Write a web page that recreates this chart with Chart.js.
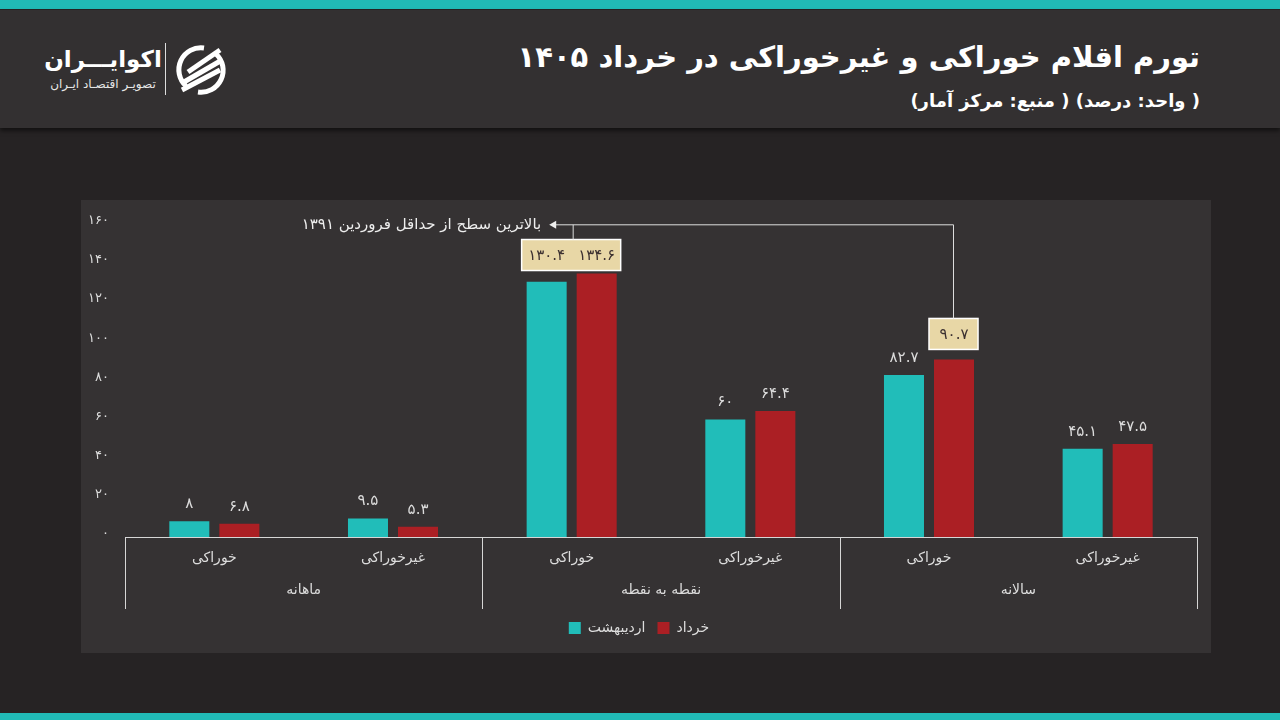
<!DOCTYPE html>
<html lang="fa">
<head>
<meta charset="utf-8">
<script src="https://cdn.jsdelivr.net/npm/chart.js@4"></script>
<style>
  body { margin: 0; width: 1280px; height: 720px; background: #262324; position: relative; overflow: hidden; font-family: "DejaVu Sans", sans-serif; }
  .topline { position: absolute; left: 0; top: 0; width: 1280px; height: 9px; background: #21bab6; }
  .bottomline { position: absolute; left: 0; top: 713px; width: 1280px; height: 7px; background: #21bab6; }
  .header { position: absolute; left: 0; top: 10px; width: 1280px; height: 118px; background: #333031; box-shadow: 0 3px 4px rgba(0,0,0,0.5); }
  .title { position: absolute; right: 80px; top: 30px; color: #fff; font-weight: bold; font-size: 29px; direction: rtl; white-space: nowrap; }
  .subtitle { position: absolute; right: 80px; top: 80px; color: #fff; font-weight: bold; font-size: 18px; direction: rtl; white-space: nowrap; }
  .logo-name { position: absolute; left: 44px; top: 36px; width: 118px; text-align: center; color: #fff; font-weight: bold; font-size: 23px; direction: rtl; }
  .logo-sub { position: absolute; left: 44px; top: 67px; width: 118px; text-align: center; color: #e6e6e6; font-size: 12px; direction: rtl; }
  .logo-bar { position: absolute; left: 165px; top: 33px; width: 1px; height: 52px; background: #ddd; }
  .logo-icon { position: absolute; left: 174px; top: 32px; }
  .panel { position: absolute; left: 81px; top: 200px; width: 1130px; height: 453px; background: #353233; }
</style>
</head>
<body>
<div class="topline"></div>
<div class="header">
  <div class="title">تورم اقلام خوراکی و غیرخوراکی در خرداد ۱۴۰۵</div>
  <div class="subtitle">( واحد: درصد) ( منبع: مرکز آمار)</div>
  <div class="logo-name">اکوایـــران</div>
  <div class="logo-sub">تصویـر اقتصـاد ایـران</div>
  <div class="logo-bar"></div>
  <svg class="logo-icon" width="54" height="54" viewBox="0 0 54 54">
    <path d="M12 44 A22 22 0 0 1 30 6" fill="none" stroke="#fff" stroke-width="5"/>
    <path d="M42 12 A22 22 0 0 1 24 50" fill="none" stroke="#fff" stroke-width="5"/>
    <line x1="14" y1="30" x2="46" y2="8" stroke="#fff" stroke-width="5"/>
    <line x1="10" y1="40" x2="48" y2="18" stroke="#fff" stroke-width="5"/>
    <line x1="8" y1="48" x2="46" y2="28" stroke="#fff" stroke-width="5"/>
  </svg>
</div>
<div class="panel"><canvas id="chart" width="1130" height="453"></canvas></div>
<div class="bottomline"></div>
<script>
const categories = ["خوراکی", "غیرخوراکی", "خوراکی", "غیرخوراکی", "خوراکی", "غیرخوراکی"];
const groups = ["ماهانه", "نقطه به نقطه", "سالانه"];
const seriesNames = ["اردیبهشت", "خرداد"];
const ordibehesht = [8, 9.5, 130.4, 60, 82.7, 45.1];
const khordad = [6.8, 5.3, 134.6, 64.4, 90.7, 47.5];
const yTicks = [0, 20, 40, 60, 80, 100, 120, 140, 160];
const noteText = "بالاترین سطح از حداقل فروردین ۱۳۹۱";

const FONT = "DejaVu Sans";
const faDigits = "۰۱۲۳۴۵۶۷۸۹";
function toFa(v) {
  return String(v).replace(/[0-9]/g, d => faDigits[d]);
}

// highlighted values: category index, datasets in box, gap above bar
const boxes = [
  { cat: 2, ds: [0, 1], gap: 3 },
  { cat: 4, ds: [1], gap: 10 },
];

const labelsPlugin = {
  id: "labels",
  afterDatasetsDraw(chart) {
    const ctx = chart.ctx;
    const data = [ordibehesht, khordad];
    const inBox = (i, j) => boxes.some(b => b.cat === j && b.ds.includes(i));
    ctx.save();
    ctx.font = "15px '" + FONT + "'";
    ctx.textAlign = "center";
    ctx.textBaseline = "middle";
    ctx.fillStyle = "#dcdcdc";
    data.forEach((vals, i) => {
      chart.getDatasetMeta(i).data.forEach((bar, j) => {
        if (inBox(i, j)) return;
        ctx.fillText(toFa(vals[j]), bar.x, bar.y - 17);
      });
    });
    const rects = [];
    boxes.forEach(b => {
      const bars = b.ds.map(i => chart.getDatasetMeta(i).data[b.cat]);
      const w = bars[0].width;
      const left = bars[0].x - w / 2 - 5;
      const right = bars[bars.length - 1].x + w / 2 + 4;
      const bottom = Math.min(...bars.map(e => e.y)) - b.gap;
      const top = bottom - 31;
      ctx.fillStyle = "#e8d7a6";
      ctx.strokeStyle = "#ffffff";
      ctx.lineWidth = 1.5;
      ctx.fillRect(left, top, right - left, bottom - top);
      ctx.strokeRect(left, top, right - left, bottom - top);
      ctx.fillStyle = "#3b3030";
      b.ds.forEach((i, k) => ctx.fillText(toFa(data[i][b.cat]), bars[k].x, (top + bottom) / 2 + 1));
      rects.push({ left, right, top, bottom });
    });
    // annotation arrow
    const r1 = rects[0], r2 = rects[1];
    const lineY = chart.chartArea.top + 1;
    const c2 = (r2.left + r2.right) / 2;
    const c1 = (r1.left + r1.right) / 2;
    const tipX = c1 - 22;
    ctx.strokeStyle = "#dddddd";
    ctx.lineWidth = 1;
    ctx.beginPath();
    ctx.moveTo(c2, r2.top);
    ctx.lineTo(c2, lineY);
    ctx.lineTo(tipX + 6, lineY);
    ctx.moveTo(c1 + 2, lineY);
    ctx.lineTo(c1 + 2, r1.top);
    ctx.stroke();
    ctx.fillStyle = "#eeeeee";
    ctx.beginPath();
    ctx.moveTo(tipX, lineY);
    ctx.lineTo(tipX + 7, lineY - 4);
    ctx.lineTo(tipX + 7, lineY + 4);
    ctx.closePath();
    ctx.fill();
    ctx.textAlign = "right";
    ctx.font = "15px '" + FONT + "'";
    ctx.fillText(noteText, tipX - 8, lineY);
    ctx.restore();
  },
  afterDraw(chart) {
    // separators between the groups under the axis
    const ctx = chart.ctx;
    const x = chart.scales.x;
    const x2 = chart.scales.x2;
    const step = (x.right - x.left) / groups.length;
    ctx.save();
    ctx.strokeStyle = "#d6d6d6";
    ctx.lineWidth = 1;
    ctx.beginPath();
    ctx.moveTo(x.left, x.top + 0.5);
    ctx.lineTo(x.right, x.top + 0.5);
    for (let g = 0; g <= groups.length; g++) {
      const px = Math.round(x.left + g * step) + 0.5;
      ctx.moveTo(px, x.top);
      ctx.lineTo(px, x2.bottom);
    }
    ctx.stroke();
    ctx.restore();
  }
};

new Chart(document.getElementById("chart"), {
  type: "bar",
  data: {
    labels: categories,
    datasets: [
      { label: seriesNames[0], data: ordibehesht, backgroundColor: "#21bdb9", xAxisID: "x" },
      { label: seriesNames[1], data: khordad, backgroundColor: "#ab1f24", xAxisID: "x" },
    ],
  },
  options: {
    responsive: false,
    animation: false,
    categoryPercentage: 0.56,
    barPercentage: 0.8,
    layout: { padding: { top: 17, right: 14, bottom: 8, left: 0 } },
    plugins: {
      legend: {
        position: "bottom",
        labels: {
          color: "#dddddd",
          font: { family: FONT, size: 14 },
          boxWidth: 12,
          boxHeight: 12,
          padding: 12,
        },
      },
      tooltip: { enabled: false },
    },
    scales: {
      x: {
        position: "bottom",
        weight: 0,
        grid: { display: false, drawTicks: false },
        border: { display: false },
        ticks: { color: "#dddddd", font: { family: FONT, size: 14 }, padding: 13, maxRotation: 0 },
        afterFit(scale) { scale.height = 36; },
      },
      x2: {
        type: "category",
        labels: groups,
        position: "bottom",
        weight: 1,
        grid: { display: false, drawTicks: false },
        border: { display: false },
        ticks: { color: "#dddddd", font: { family: FONT, size: 14 }, padding: 9, maxRotation: 0 },
        afterFit(scale) { scale.height = 36; },
      },
      y: {
        min: 0,
        max: 160,
        afterBuildTicks(scale) { scale.ticks = yTicks.map(v => ({ value: v })); },
        grid: { display: false, drawTicks: false },
        border: { display: false },
        ticks: {
          color: "#dddddd",
          font: { family: FONT, size: 13 },
          padding: 16,
          labelOffset: -3,
          callback: v => toFa(v),
        },
        afterFit(scale) { scale.width = 44; },
      },
    },
  },
  plugins: [labelsPlugin],
});
</script>
</body>
</html>
